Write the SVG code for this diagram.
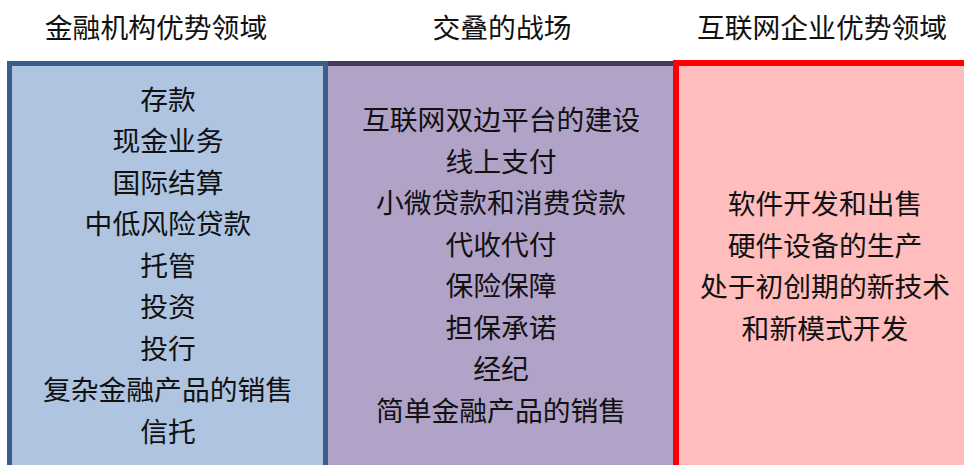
<svg xmlns="http://www.w3.org/2000/svg" width="964" height="465" viewBox="0 0 964 465">
<style>
text{font-family:"Noto Sans CJK SC","Noto Sans",sans-serif;font-size:27.8px;fill:#111;text-anchor:middle}
</style>
<rect x="0" y="0" width="964" height="465" fill="#ffffff"/>
<g id="headers">
<text x="156" y="38">金融机构优势领域</text>
<text x="502" y="38">交叠的战场</text>
<text x="822" y="38">互联网企业优势领域</text>
</g>
<g id="overlap">
<rect x="326" y="63.5" width="352" height="410" fill="#b1a2c8"/>
<line x1="326" y1="63.5" x2="676" y2="63.5" stroke="#47385c" stroke-width="5"/>
<text x="501" y="130">互联网双边平台的建设</text>
<text x="501" y="172">线上支付</text>
<text x="501" y="213">小微贷款和消费贷款</text>
<text x="501" y="255">代收代付</text>
<text x="501" y="296">保险保障</text>
<text x="501" y="338">担保承诺</text>
<text x="501" y="379">经纪</text>
<text x="501" y="421">简单金融产品的销售</text>
</g>
<g id="finance">
<rect x="9.5" y="63.5" width="316" height="410" fill="#aec4e0" stroke="#3a5e8c" stroke-width="5"/>
<text x="168" y="110">存款</text>
<text x="168" y="151">现金业务</text>
<text x="168" y="193">国际结算</text>
<text x="168" y="234">中低风险贷款</text>
<text x="168" y="276">托管</text>
<text x="168" y="317">投资</text>
<text x="168" y="359">投行</text>
<text x="168" y="400">复杂金融产品的销售</text>
<text x="168" y="442">信托</text>
</g>
<g id="internet">
<rect x="676" y="63" width="300" height="410" fill="#ffbdbd" stroke="#ff0000" stroke-width="6"/>
<text x="825" y="214">软件开发和出售</text>
<text x="825" y="256">硬件设备的生产</text>
<text x="825" y="297">处于初创期的新技术</text>
<text x="825" y="339">和新模式开发</text>
</g>
</svg>
